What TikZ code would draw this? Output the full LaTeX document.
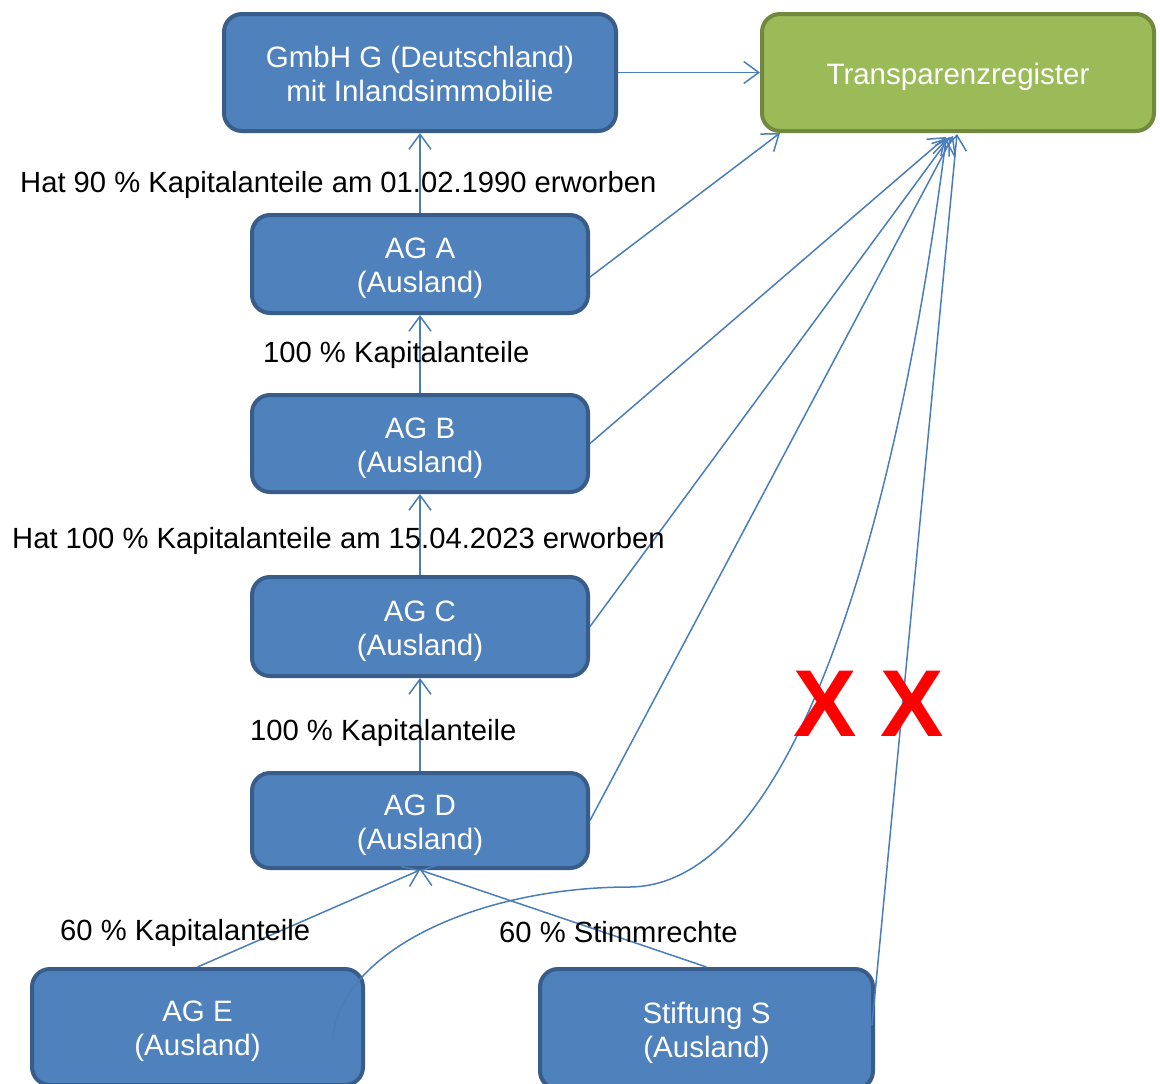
\documentclass[tikz,border=0pt]{standalone}
\usepackage{fontspec}
\setmainfont{Liberation Sans}
\usetikzlibrary{arrows.meta}
\definecolor{boxblue}{HTML}{4F81BD}
\definecolor{boxblueline}{HTML}{385D8A}
\definecolor{boxgreen}{HTML}{9BBB59}
\definecolor{boxgreenline}{HTML}{71893F}
\definecolor{linkblue}{HTML}{4A7EBB}
\newcommand{\boxstrut}[1][29.5pt]{\rule{0pt}{#1}}
\tikzset{
  x=1pt, y=-1pt,
  entity/.style={draw=boxblueline, fill=boxblue, line width=4pt, rounded corners=18pt,
    text=white, align=center, inner sep=0pt,
    font=\fontsize{29.5}{34}\selectfont},
  registry/.style={entity, draw=boxgreenline, fill=boxgreen},
  link/.style={draw=linkblue, line width=1.5pt,
    -{Straight Barb[length=15pt,width=22pt,line width=1.5pt]}},
  lbl/.style={anchor=base west, inner sep=0pt, font=\fontsize{29.2}{34}\selectfont},
  cross/.style={inner sep=0pt, text=red, font=\fontsize{95}{95}\selectfont\bfseries}
}
\begin{document}
\begin{tikzpicture}
\useasboundingbox (0,0) rectangle (1160,1084);
\fill[white] (0,0) rectangle (1160,1084);

\node[entity, minimum width=392pt, minimum height=117pt] (G) at (420,72.5) {\boxstrut[23.5pt]GmbH G (Deutschland)\\mit Inlandsimmobilie};
\node[registry, minimum width=392pt, minimum height=117pt] (T) at (958,72.5) {\boxstrut Transparenzregister};
\node[entity, minimum width=336pt, minimum height=98pt] (A) at (420,264) {\boxstrut AG A\\(Ausland)};
\node[entity, minimum width=336pt, minimum height=97pt] (B) at (420,443.5) {\boxstrut AG B\\(Ausland)};
\node[entity, minimum width=336pt, minimum height=99pt] (C) at (420,626.5) {\boxstrut AG C\\(Ausland)};
\node[entity, minimum width=336pt, minimum height=95pt] (D) at (420,820.5) {\boxstrut AG D\\(Ausland)};
\node[entity, minimum width=331pt, minimum height=116pt] (E) at (197.5,1027) {\boxstrut AG E\\(Ausland)};
\node[entity, minimum width=333pt, minimum height=120pt] (S) at (706.5,1029) {\boxstrut Stiftung S\\(Ausland)};

% ownership chain
\draw[link] (G.east) -- (T.west);
\draw[link] (A.north) -- (G.south);
\draw[link] (B.north) -- (A.south);
\draw[link] (C.north) -- (B.south);
\draw[link] (D.north) -- (C.south);
\draw[link] (E.north) -- (D.south);
\draw[link] (S.north) -- (D.south);

% links to register
\draw[link] ([yshift=-13pt]A.east) -- ([xshift=20pt]T.south west);
\draw[link] (B.east) -- ([xshift=-12pt,yshift=-4pt]T.south);
\draw[link] (C.east) -- ([xshift=-8pt,yshift=-4pt]T.south);
\draw[link] (D.east) -- ([xshift=-5pt,yshift=-3pt]T.south);
\draw[link] ([xshift=135pt,yshift=-13pt]E.center) .. controls (340,950) and (480,887) .. (630,887)
   .. controls (800,885) and (900,500) .. ([xshift=-12pt,yshift=-6pt]T.south);
\draw[link] ([xshift=-3pt,yshift=4pt]S.east) -- ([xshift=-1pt,yshift=-1pt]T.south);

% labels
\node[lbl] (l1) at (20,192) {Hat 90 \% Kapitalanteile am 01.02.1990 erworben};
\node[lbl] (l2) at (263,362) {100 \% Kapitalanteile};
\node[lbl] (l3) at (12,548) {Hat 100 \% Kapitalanteile am 15.04.2023 erworben};
\node[lbl] (l4) at (250,740) {100 \% Kapitalanteile};
\node[lbl] (l5) at (60,940) {60 \% Kapitalanteile};
\node[lbl] (l6) at (499,942) {60 \% Stimmrechte};

% crosses
\node[cross] (x1) at (825,704) {X};
\node[cross] (x2) at (912,704) {X};
\end{tikzpicture}
\end{document}
